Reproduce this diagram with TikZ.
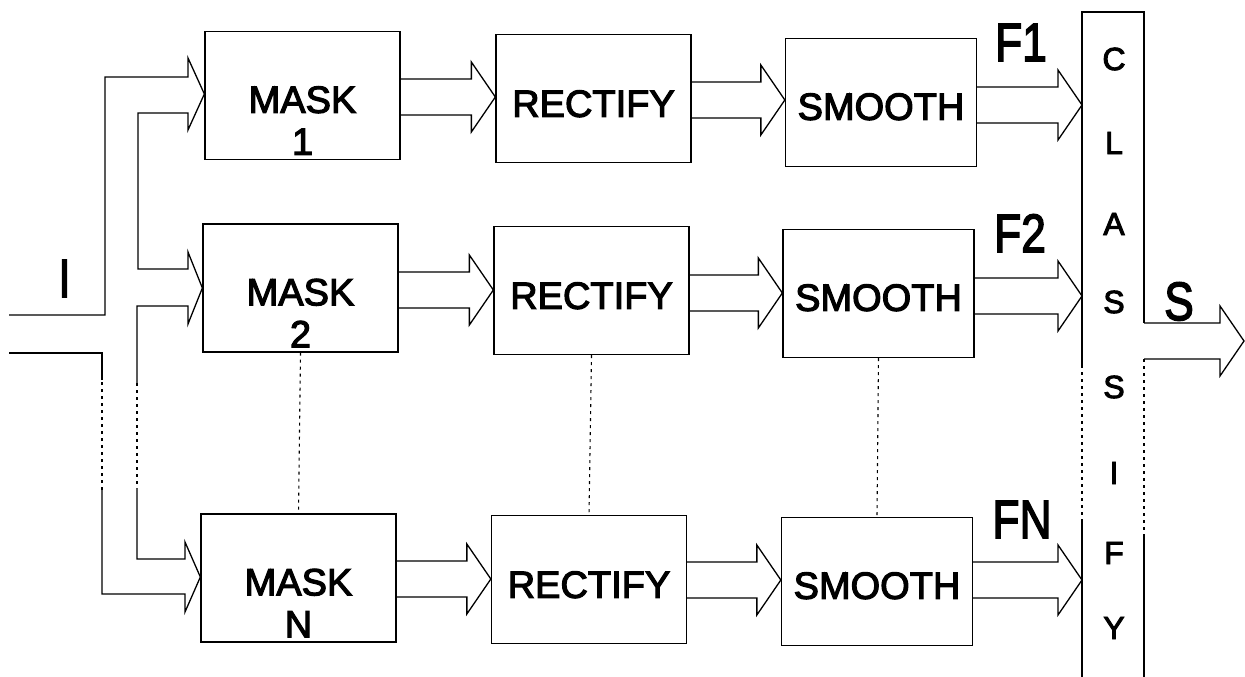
\documentclass[tikz,border=0pt]{standalone}
\usepackage{fontspec}
\setmainfont{Liberation Sans}[FakeBold=3]
\usetikzlibrary{calc}
\tikzset{
  box/.style={draw, line width=1.3pt, minimum width=195pt, minimum height=128pt, inner sep=0pt},
  sbox/.style={box, minimum width=191pt},
  boxtxt/.style={font=\fontsize{38}{40}\selectfont, anchor=base, inner sep=0pt},
  bigtxt/.style={font=\fontsize{54}{56}\selectfont, anchor=base, inner sep=0pt},
  cltxt/.style={font=\fontsize{32}{34}\selectfont, inner sep=0pt},
  dotline/.style={dash pattern=on 3pt off 4pt, line width=1.1pt},
}
\newcommand\blk[3]{%
  \draw let \p1=(#1.east), \p2=(#2.west) in
    (\x1,#3pt+18pt) -- (\x2-24pt,#3pt+18pt) -- (\x2-24pt,#3pt+35pt) -- (\x2,#3pt)
    -- (\x2-24pt,#3pt-35pt) -- (\x2-24pt,#3pt-18pt) -- (\x1,#3pt-18pt);}
\begin{document}
\begin{tikzpicture}[x=1pt,y=1pt,line width=1.3pt]
\useasboundingbox (0,0) rectangle (1245,-677);
% boxes
\node[box] (m1) at (302.5,-95.5) {};
\node[box] (m2) at (300.5,-288) {};
\node[box] (mN) at (298.5,-578) {};
\node[box] (r1) at (593.5,-98.5) {};
\node[box] (r2) at (591.5,-290.5) {};
\node[box] (rN) at (589,-579.5) {};
\node[sbox] (s1) at (881,-102.5) {};
\node[sbox] (s2) at (878.5,-293.5) {};
\node[sbox] (sN) at (877,-581.5) {};
\node[minimum width=62pt, minimum height=665pt, anchor=north, inner sep=0pt, outer sep=0pt] (cl) at (1113,-12) {};
% box texts
\foreach \b/\d in {m1/1, m2/2, mN/N}{
  \node[boxtxt] (\b t) at ($(\b.north)+(0,-82)$) {MASK};
  \node[boxtxt] (\b d) at ($(\b.north)+(0,-124)$) {\d};
}
\foreach \b in {r1,r2,rN}{
  \node[boxtxt] (\b t) at ($(\b.north)+(0,-83)$) {RECTIFY};
}
\foreach \b in {s1,s2,sN}{
  \node[boxtxt] (\b t) at ($(\b.north)+(0,-82)$) {SMOOTH};
}
% classify box outline
\draw (cl.north west |- 0,-365) -- (cl.north west) -- (cl.north east) -- (cl.east |- 0,-323);
\draw[dotline] (cl.west |- 0,-365) -- (cl.west |- 0,-520);
\draw (cl.west |- 0,-520) -- (cl.south west);
\draw[dotline] (cl.east |- 0,-359) -- (cl.east |- 0,-537);
\draw (cl.east |- 0,-537) -- (cl.south east);
\foreach \l/\y [count=\i] in {C/59, L/143, A/224, S/302, S/387, I/473, F/553, Y/628}{
  \node[cltxt] (cl\i) at (1114,-\y) {\l};
}
% output arrow S
\coordinate (sout) at (1244,-341);
\draw (cl.east |- 0,-323) -- (1220,-323) -- (1220,-306) -- (sout) -- (1220,-376) -- (1220,-359) -- (cl.east |- 0,-359);
\node[bigtxt] (Slab) at (1179,-320) {\scalebox{0.82}[1]{S}};
% block arrows between stages
\blk{m1}{r1}{-97}
\blk{r1}{s1}{-100}
\blk{s1}{cl}{-105}
\blk{m2}{r2}{-290}
\blk{r2}{s2}{-293}
\blk{s2}{cl}{-296}
\blk{mN}{rN}{-579}
\blk{rN}{sN}{-580}
\blk{sN}{cl}{-580}
% F labels
\node[bigtxt] (F1) at (1021,-61) {\scalebox{0.82}[1]{F1}};
\node[bigtxt] (F2) at (1020,-252) {\scalebox{0.82}[1]{F2}};
\node[bigtxt] (FN) at (1022,-538) {\scalebox{0.82}[1]{FN}};
% input bus
\coordinate (inA) at (9,-315);
\coordinate (inB) at (9,-353);
\node[bigtxt] (Ilab) at (64.5,-297) {\scalebox{0.82}[1]{I}};
\draw (inA) -- (105,-315) -- (105,-77) -- (188,-77) -- (188,-58) -- (m1.west |- 0,-94)
  -- (188,-130) -- (188,-113) -- (138,-113) -- (138,-269) -- (188,-269) -- (188,-252)
  -- (m2.west |- 0,-288) -- (188,-324) -- (188,-306) -- (137,-306) -- (137,-383);
\draw[dotline] (137,-383) -- (137,-488);
\draw (137,-488) -- (137,-559) -- (185,-559) -- (185,-542) -- (mN.west |- 0,-577)
  -- (185,-612) -- (185,-594) -- (102,-594) -- (102,-490);
\draw[dotline] (102,-490) -- (102,-380);
\draw (102,-380) -- (102,-353) -- (inB);
% dotted continuation lines between rows
\draw[dotline] (m2.south) -- (mN.north);
\draw[dotline] (r2.south) -- (rN.north);
\draw[dotline] (s2.south) -- (sN.north);
\end{tikzpicture}
\end{document}
